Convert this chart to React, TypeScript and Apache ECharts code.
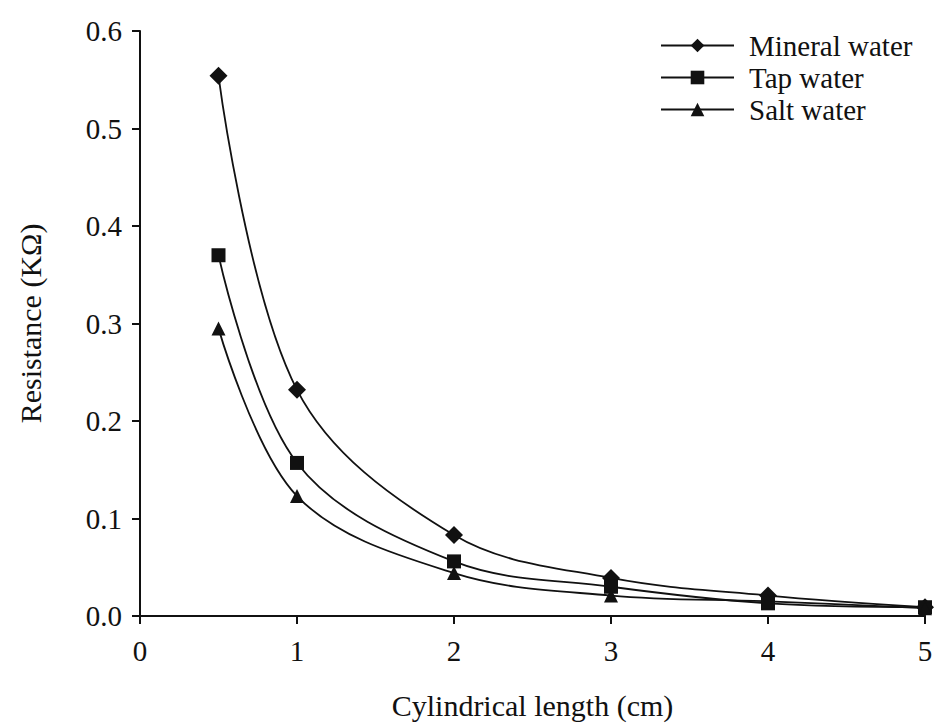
import React, { useEffect, useRef } from "react";
import * as echarts from "echarts";

const lengths = [0.5, 1, 2, 3, 4, 5];
const mineralWater = [0.554, 0.232, 0.083, 0.039, 0.021, 0.009];
const tapWater = [0.37, 0.157, 0.056, 0.03, 0.013, 0.009];
const saltWater = [0.295, 0.123, 0.044, 0.021, 0.015, 0.008];
const seriesNames = ["Mineral water", "Tap water", "Salt water"];

export default function App() {
  const ref = useRef<HTMLDivElement>(null);
  useEffect(() => {
    if (!ref.current) return;
    const chart = echarts.init(ref.current, null, { renderer: "svg" });
    const font = "'Liberation Serif', 'Times New Roman', serif";
    const fs = 29;
    const mk = (name: string, data: number[], symbol: string, size: number) => ({
      name,
      type: "line",
      smooth: 0.35,
      data: lengths.map((x, i) => [x, data[i]]),
      symbol,
      symbolSize: size,
      showAllSymbol: true,
      lineStyle: { color: "#111", width: 1.8 },
      itemStyle: { color: "#111" },
    });
    chart.setOption({
      animation: false,
      backgroundColor: "#fff",
      textStyle: { fontFamily: font, color: "#111" },
      grid: { left: 140, right: 13, top: 31, bottom: 108, containLabel: false },
      legend: {
        orient: "vertical",
        left: 655,
        top: 26,
        itemWidth: 73,
        itemHeight: 17,
        itemGap: 3,
        textStyle: { fontFamily: font, fontSize: fs, color: "#111", padding: [0, 0, 0, 10] },
        data: seriesNames,
      },
      xAxis: {
        type: "value",
        min: 0,
        max: 5,
        interval: 1,
        name: "Cylindrical length (cm)",
        nameLocation: "middle",
        nameGap: 74,
        nameTextStyle: { fontFamily: font, fontSize: fs + 1, color: "#111" },
        axisLine: { lineStyle: { color: "#111", width: 2 } },
        axisTick: { lineStyle: { color: "#111", width: 2 }, length: 8 },
        axisLabel: { fontFamily: font, fontSize: fs, color: "#111", margin: 20 },
        splitLine: { show: false },
      },
      yAxis: {
        type: "value",
        min: 0,
        max: 0.6,
        interval: 0.1,
        name: "Resistance (KΩ)",
        nameLocation: "middle",
        nameGap: 95,
        nameRotate: 90,
        nameTextStyle: { fontFamily: font, fontSize: fs + 1, color: "#111" },
        axisLine: { show: true, lineStyle: { color: "#111", width: 2 } },
        axisTick: { show: true, lineStyle: { color: "#111", width: 2 }, length: 8 },
        axisLabel: {
          fontFamily: font,
          fontSize: fs,
          color: "#111",
          margin: 18,
          formatter: (v: number) => v.toFixed(1),
        },
        splitLine: { show: false },
      },
      series: [
        mk(seriesNames[0], mineralWater, "diamond", 18),
        mk(seriesNames[1], tapWater, "rect", 14),
        mk(seriesNames[2], saltWater, "triangle", 14),
      ],
    });
    return () => chart.dispose();
  }, []);
  return (
    <div
      ref={ref}
      style={{ position: "fixed", left: 0, top: 0, width: 938, height: 725 }}
    />
  );
}
